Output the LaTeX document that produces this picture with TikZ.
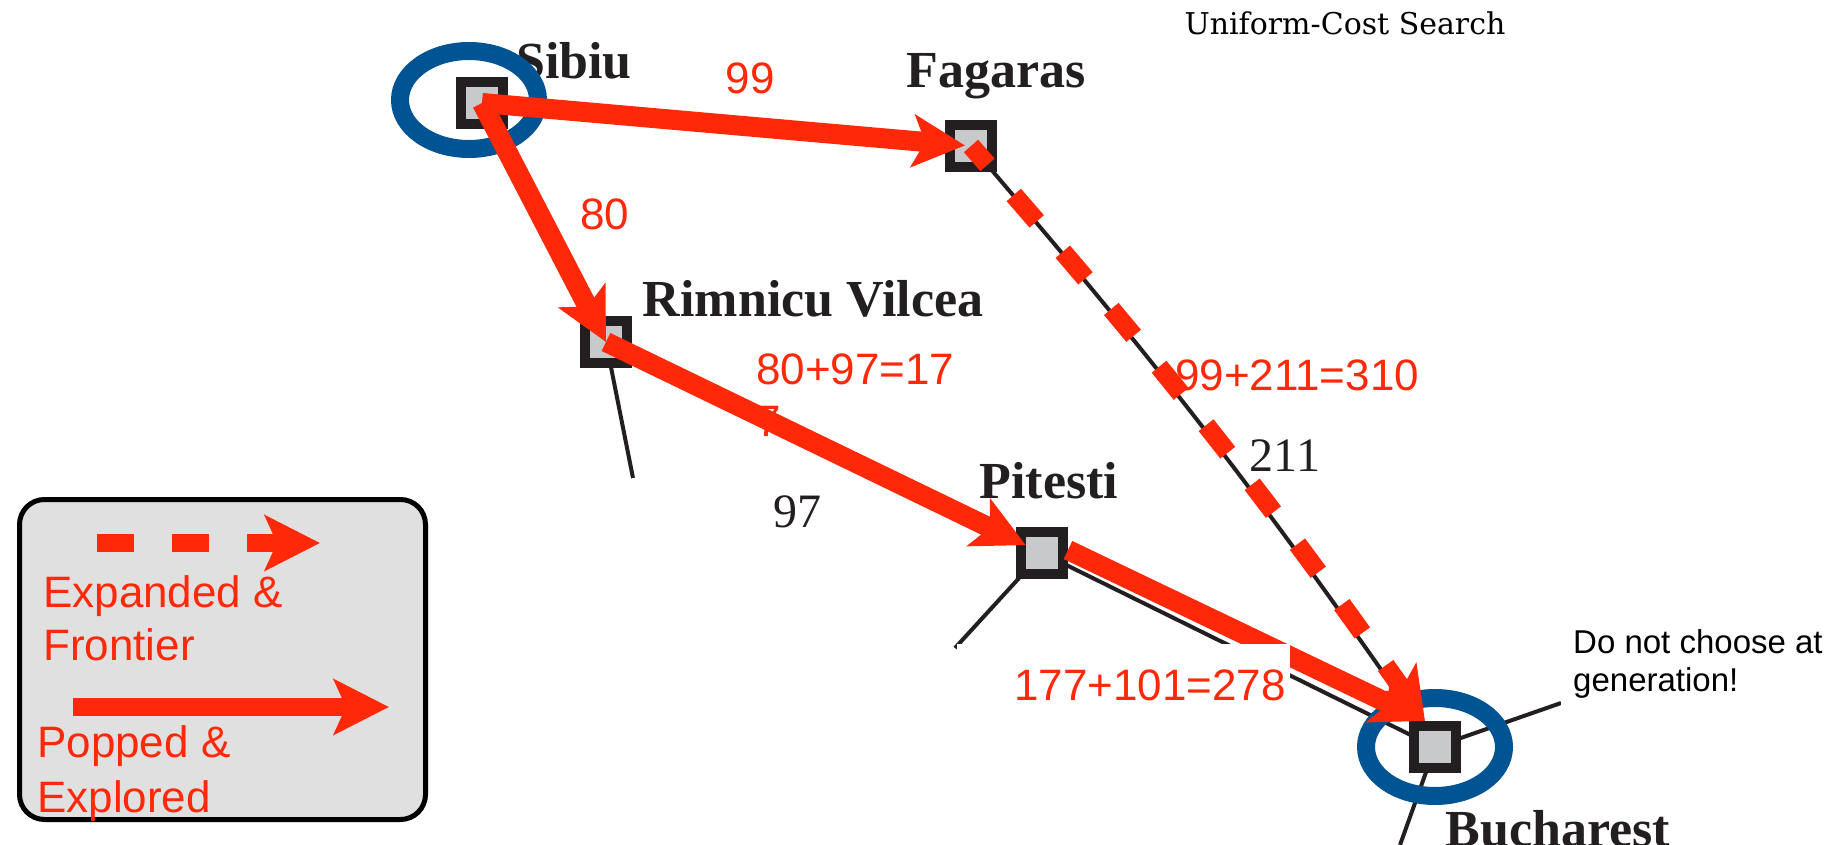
\documentclass[tikz,border=0pt]{standalone}
\usepackage{fontspec}
\setmainfont{Liberation Sans}
\newfontfamily\mapfont{Liberation Serif}
\newfontfamily\titlefont{DejaVu Serif}
\usetikzlibrary{arrows.meta,shapes.geometric,backgrounds}

\definecolor{pathred}{RGB}{255,40,8}
\definecolor{ringblue}{RGB}{0,84,147}
\definecolor{cityfill}{RGB}{200,201,203}
\definecolor{roadink}{RGB}{35,31,32}
\definecolor{legendfill}{RGB}{224,224,224}

\tikzset{
  city/.style={rectangle, draw=roadink, line width=10pt, fill=cityfill, minimum size=42pt, inner sep=0pt},
  cityname/.style={anchor=base, text=roadink, inner sep=0pt, font=\mapfont\bfseries\fontsize{52}{52}\selectfont},
  dist/.style={anchor=base, text=roadink, inner sep=0pt, font=\mapfont\fontsize{48}{48}\selectfont},
  road/.style={draw=roadink, line width=4pt},
  ring/.style={ellipse, draw=ringblue, line width=18pt, minimum width=138pt, minimum height=98pt, inner sep=0pt},
  popped/.style={draw=pathred, line width=20pt, -{Stealth[length=52pt,width=52pt,inset=12pt]}},
  expanded/.style={popped, line width=19pt, dash pattern=on 35pt off 40pt, dash phase=10pt},
  cost/.style={text=pathred, inner sep=0pt, font=\fontsize{44}{52}\selectfont},
}

\begin{document}
\begin{tikzpicture}[x=1pt,y=-1pt]
\useasboundingbox (0,0) rectangle (1837,845);

\node[font=\titlefont\fontsize{30}{30}\selectfont] (title) at (1345,23) {Uniform-Cost Search};

% map: cities and roads
\node[city] (sib) at (482,103) {};
\node[city] (fag) at (971,146) {};
\node[city] (rim) at (606,342) {};
\node[city] (pit) at (1042,553) {};
\node[city] (buc) at (1435,747) {};
\coordinate (rim-s) at (633,478);
\coordinate (pit-sw) at (955,648);
\coordinate (buc-ne) at (1561,703);
\coordinate (buc-s) at (1400,845);
\coordinate (buc-in) at ([xshift=-10pt]buc.north);

\begin{scope}[on background layer]
\draw[road] (sib.center) -- (fag.center);
\draw[road] (sib.center) -- (rim.center);
\draw[road] (rim.center) -- (pit.center);
\draw[road] (pit.center) -- (buc.center);
\draw[road] (fag.center) to[bend left=3] (buc.center);
\draw[road] (rim.center) -- (rim-s);
\draw[road] (pit.center) -- (pit-sw);
\draw[road] (buc.center) -- (buc-ne);
\draw[road] (buc.center) -- (buc-s);
\end{scope}

\node[cityname] (sib-name) at (574,79) {Sibiu};
\node[cityname] (fag-name) at (996,88) {Fagaras};
\node[cityname] (rim-name) at (813,316) {Rimnicu Vilcea};
\node[cityname] (pit-name) at (1049,498) {Pitesti};
\node[cityname] (buc-name) at (1558,846) {Bucharest};
\node[dist] (d-fb) at (1285,471) {211};
\node[dist] (d-rp) at (797,527) {97};

\node[ring] (sib-ring) at (469,100) {};
\node[ring] (buc-ring) at (1435,747) {};

% search steps
\draw[popped, shorten >=6pt] (sib.center) -- (fag.center);
\draw[popped] (sib.center) -- (rim.center);
\draw[popped, shorten >=18pt] (rim.center) -- (pit.center);
\draw[expanded] (fag.center) to[bend left=3] (buc-in);
\draw[popped] ([yshift=3pt]pit.east) -- (buc-in);

\node[cost, anchor=base] (c-sf) at (750,94) {99};
\node[cost, anchor=base] (c-sr) at (605,230) {80};
\node[cost, anchor=base west, align=left] (c-rp) at (756,436) {80+97=17\\7};
\node[cost, anchor=base west] (c-fb) at (1175,390) {99+211=310};
\node[cost, fill=white, text width=325pt, align=right, inner xsep=4pt, inner ysep=25pt,
  anchor=base east] (c-pb) at (1290,700) {177+101=278};
\node[fill=white, font=\fontsize{33}{38}\selectfont, inner sep=12pt, align=left,
  anchor=base west] (hint) at (1561,691) {Do not choose at\\generation!};

% legend
\node[draw=black, line width=5pt, fill=legendfill, rounded corners=25pt, minimum width=406pt,
  minimum height=320pt, inner sep=0pt] (legend) at (222.5,659.5) {};
\coordinate (exp-a) at (97,543);
\coordinate (exp-b) at (320,543);
\coordinate (pop-a) at (73,707);
\coordinate (pop-b) at (389,707);
\draw[draw=pathred, line width=18pt, dash pattern=on 37pt off 38pt,
  -{Stealth[length=55pt,width=55pt,inset=12pt]}] (exp-a) -- (exp-b);
\draw[draw=pathred, line width=18pt, -{Stealth[length=55pt,width=55pt,inset=12pt]}] (pop-a) -- (pop-b);
\node[cost, anchor=base west, align=left, font=\fontsize{44}{53}\selectfont] (exp-text) at (43,660) {Expanded \&\\Frontier};
\node[cost, anchor=base west, align=left, font=\fontsize{44}{55}\selectfont] (pop-text) at (37,812) {Popped \&\\Explored};
\end{tikzpicture}
\end{document}
